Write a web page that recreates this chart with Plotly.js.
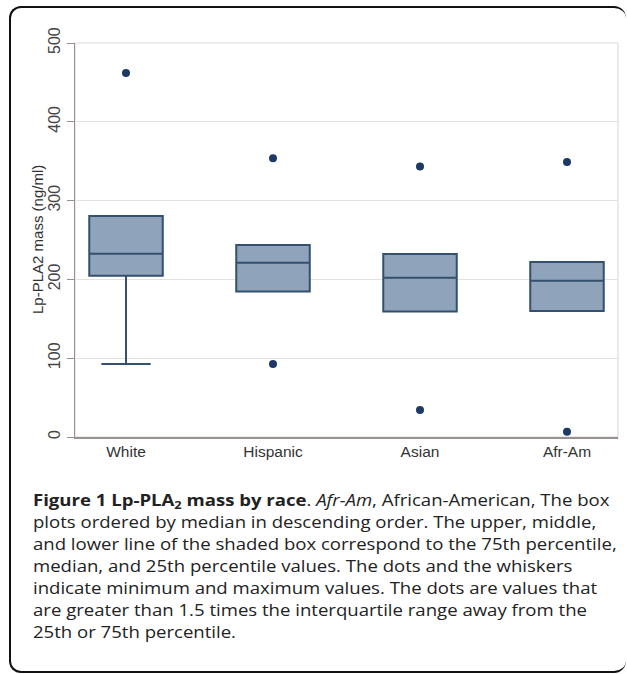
<!DOCTYPE html>
<html>
<head>
<meta charset="utf-8">
<script src="https://cdn.plot.ly/plotly-3.0.1.min.js"></script>
<style>
  html, body { margin: 0; padding: 0; background: #fff; }
  #wrap { position: relative; width: 627px; height: 674px; overflow: hidden; }
  #chart { position: absolute; left: 0; top: 0; width: 627px; height: 674px; }
  #frame { position: absolute; left: 9px; top: 6px; width: 617px; height: 667px;
           border: 2px solid #111; border-radius: 12px; box-sizing: border-box; pointer-events: none;
           border-right-width: 0; }
  #caption { position: absolute; left: 33px; top: 489px; width: 510px;
             font-family: "Open Sans", "Noto Sans", sans-serif; font-size: 16px; line-height: 22px;
             color: #222; white-space: nowrap; transform: scaleX(1.16); transform-origin: 0 0; }
  #caption b { font-weight: bold; }
  #caption sub { font-size: 11px; line-height: 0; vertical-align: -3px; }
</style>
</head>
<body>
<div id="wrap">
  <div id="chart"></div>
  <div id="frame"></div>
  <div id="caption">
    <b>Figure 1 Lp-PLA<sub>2</sub> mass by race</b>. <i>Afr-Am</i>, African-American, The box<br>
    plots ordered by median in descending order. The upper, middle,<br>
    and lower line of the shaded box correspond to the 75th percentile,<br>
    median, and 25th percentile values. The dots and the whiskers<br>
    indicate minimum and maximum values. The dots are values that<br>
    are greater than 1.5 times the interquartile range away from the<br>
    25th or 75th percentile.
  </div>
</div>
<script>
const categories = ["White", "Hispanic", "Asian", "Afr-Am"];
const q1 = [204.7, 184.8, 159.4, 159.9];
const medians = [232.6, 221.2, 202.2, 198.4];
const q3 = [280.5, 243.6, 232.2, 222.1];
const lowerWhisker = [92.6, 184.8, 159.4, 159.9];
const upperWhisker = [280.5, 243.6, 232.2, 222.1];
const outlierCategories = ["White", "Hispanic", "Hispanic", "Asian", "Asian", "Afr-Am", "Afr-Am"];
const outlierValues = [462, 353.6, 92.6, 343.4, 34.3, 349, 6.7];
const yTicks = [0, 100, 200, 300, 400, 500];
const yTitle = "Lp-PLA2 mass (ng/ml)";

const boxFill = "#8fa3bb";
const boxLine = "#33506f";
const dotColor = "#1d3a66";

const traces = [
  {
    type: "box",
    x: categories,
    q1: q1,
    median: medians,
    q3: q3,
    lowerfence: lowerWhisker,
    upperfence: upperWhisker,
    fillcolor: boxFill,
    line: { color: boxLine, width: 2 },
    width: 0.5,
    whiskerwidth: 0.67,
    boxpoints: false,
    hoverinfo: "skip",
    showlegend: false
  },
  {
    type: "scatter",
    mode: "markers",
    x: outlierCategories,
    y: outlierValues,
    marker: { color: dotColor, size: 8 },
    cliponaxis: false,
    hoverinfo: "skip",
    showlegend: false
  }
];

const layout = {
  width: 627,
  height: 674,
  margin: { l: 75, r: 9, t: 43, b: 237 },
  paper_bgcolor: "rgba(0,0,0,0)",
  plot_bgcolor: "#ffffff",
  font: { family: "Liberation Sans, Arial, sans-serif", color: "#333" },
  xaxis: {
    type: "category",
    categoryorder: "array",
    categoryarray: categories,
    range: [-0.347, 3.347],
    showgrid: false,
    zeroline: false,
    showline: true,
    linecolor: "#9a9090",
    linewidth: 1.5,
    ticks: "",
    tickfont: { size: 15.5, color: "#333" },
    fixedrange: true
  },
  yaxis: {
    range: [0, 500],
    tickvals: yTicks,
    ticktext: yTicks.map(String),
    tickangle: -90,
    ticks: "outside",
    ticklen: 7,
    tickcolor: "#9a9090",
    tickfont: { size: 16, color: "#444" },
    showgrid: true,
    gridcolor: "#e6e0e0",
    gridwidth: 1.2,
    zeroline: false,
    showline: true,
    linecolor: "#9a9090",
    linewidth: 1.5,
    fixedrange: true
  },
  annotations: [
    { text: yTitle, xref: "paper", yref: "paper", x: 0, y: 0.5, xanchor: "center", yanchor: "middle",
      xshift: -38, textangle: -90, showarrow: false, font: { size: 15, color: "#333" } }
  ],
  shapes: [
    { type: "rect", xref: "paper", yref: "paper", x0: 0, x1: 1, y0: 0, y1: 1,
      line: { color: "#e2dada", width: 1.2 }, layer: "below" }
  ]
};

Plotly.newPlot("chart", traces, layout, { displayModeBar: false, staticPlot: true });
</script>
</body>
</html>
